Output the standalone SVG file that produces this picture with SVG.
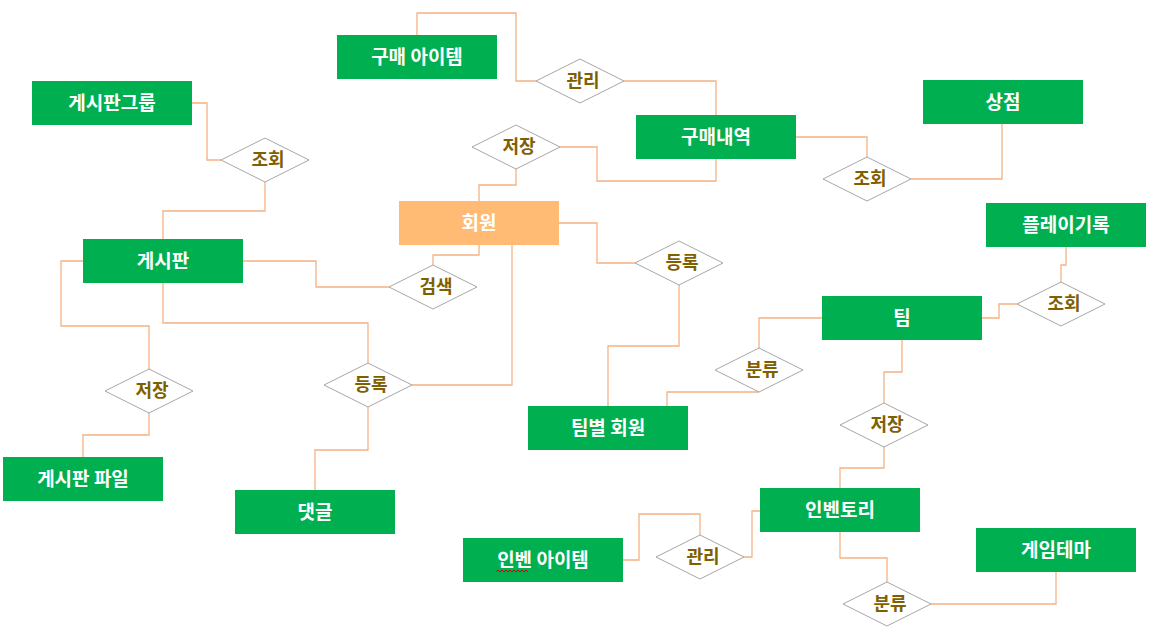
<svg xmlns="http://www.w3.org/2000/svg" width="1162" height="634" viewBox="0 0 1162 634">
<style>
.ent rect{fill:#00B050}
.ent.main rect{fill:#FFBB73}
.ent text{fill:#FFFFFF;font-family:"Noto Sans CJK KR","Noto Sans",sans-serif;font-weight:bold;font-size:19px;text-anchor:middle}
.rel path{fill:#FFFFFF;stroke:#A6A6A6;stroke-width:1}
.rel text{fill:#7F6000;font-family:"Noto Sans CJK KR","Noto Sans",sans-serif;font-weight:bold;font-size:18px;text-anchor:middle}
#connectors polyline{fill:none;stroke:#F4B183;stroke-width:1.3}
</style>
<rect width="1162" height="634" fill="#FFFFFF"/>
<g id="connectors">
<polyline points="417,35 417,13 516,13 516,81 536,81"/>
<polyline points="624,81 716,81 716,115"/>
<polyline points="560,147 597,147 597,181 716,181 716,159"/>
<polyline points="516,169 516,185 479,185 479,201"/>
<polyline points="192,103 207,103 207,160 221,160"/>
<polyline points="265,182 265,211 163,211 163,239"/>
<polyline points="243,261 316,261 316,287 389,287"/>
<polyline points="433,265 433,255 479,255 479,245"/>
<polyline points="512,245 512,385 412,385"/>
<polyline points="163,283 163,323 368,323 368,363"/>
<polyline points="83,261 61,261 61,326 149,326 149,369"/>
<polyline points="149,413 149,435 83,435 83,457"/>
<polyline points="368,407 368,450 315,450 315,490"/>
<polyline points="559,223 597,223 597,263 635,263"/>
<polyline points="679,285 679,346 608,346 608,406"/>
<polyline points="822,318 759,318 759,348"/>
<polyline points="759,392 667,392 667,406"/>
<polyline points="902,340 902,372 884,372 884,403"/>
<polyline points="884,447 884,468 840,468 840,488"/>
<polyline points="796,137 867,137 867,157"/>
<polyline points="911,179 1002,179 1002,124"/>
<polyline points="1066,247 1066,265 1061,265 1061,282"/>
<polyline points="1017,304 999,304 999,318 982,318"/>
<polyline points="623,560 639,560 639,514 700,514 700,535"/>
<polyline points="744,557 752,557 752,511 760,511"/>
<polyline points="840,532 840,558 887,558 887,582"/>
<polyline points="931,604 1056,604 1056,572"/>
</g>
<g id="purchase-item" class="ent"><rect x="337" y="35" width="160" height="44"/><text x="417" y="64">구매 아이템</text></g>
<g id="purchase-history" class="ent"><rect x="636" y="115" width="160" height="44"/><text x="716" y="144">구매내역</text></g>
<g id="shop" class="ent"><rect x="923" y="80" width="160" height="44"/><text x="1003" y="109">상점</text></g>
<g id="board-group" class="ent"><rect x="32" y="81" width="160" height="44"/><text x="112" y="110">게시판그룹</text></g>
<g id="member" class="ent main"><rect x="399" y="201" width="160" height="44"/><text x="479" y="230">회원</text></g>
<g id="play-record" class="ent"><rect x="986" y="203" width="160" height="44"/><text x="1066" y="232">플레이기록</text></g>
<g id="board" class="ent"><rect x="83" y="239" width="160" height="44"/><text x="163" y="268">게시판</text></g>
<g id="team" class="ent"><rect x="822" y="296" width="160" height="44"/><text x="902" y="325">팀</text></g>
<g id="team-member" class="ent"><rect x="528" y="406" width="160" height="44"/><text x="608" y="435">팀별 회원</text></g>
<g id="board-file" class="ent"><rect x="3" y="457" width="160" height="44"/><text x="83" y="486">게시판 파일</text></g>
<g id="comment" class="ent"><rect x="235" y="490" width="160" height="44"/><text x="315" y="519">댓글</text></g>
<g id="inventory" class="ent"><rect x="760" y="488" width="160" height="44"/><text x="840" y="517">인벤토리</text></g>
<g id="inven-item" class="ent"><rect x="463" y="538" width="160" height="44"/><text x="543" y="567">인벤 아이템</text><path d="M496,572 l2,-2 l2,2 l2,-2 l2,2 l2,-2 l2,2 l2,-2 l2,2 l2,-2 l2,2 l2,-2 l2,2 l2,-2 l2,2 l2,-2 l2,2" fill="none" stroke="#E00000" stroke-width="1"/></g>
<g id="game-theme" class="ent"><rect x="976" y="528" width="160" height="44"/><text x="1056" y="557">게임테마</text></g>
<g id="rel-manage1" class="rel"><path d="M536,81 L580,59 L624,81 L580,103 Z"/><text x="583" y="87">관리</text></g>
<g id="rel-save1" class="rel"><path d="M472,147 L516,125 L560,147 L516,169 Z"/><text x="519" y="153">저장</text></g>
<g id="rel-view1" class="rel"><path d="M221,160 L265,138 L309,160 L265,182 Z"/><text x="268" y="166">조회</text></g>
<g id="rel-view2" class="rel"><path d="M823,179 L867,157 L911,179 L867,201 Z"/><text x="870" y="185">조회</text></g>
<g id="rel-search" class="rel"><path d="M389,287 L433,265 L477,287 L433,309 Z"/><text x="436" y="293">검색</text></g>
<g id="rel-register1" class="rel"><path d="M635,263 L679,241 L723,263 L679,285 Z"/><text x="682" y="269">등록</text></g>
<g id="rel-view3" class="rel"><path d="M1017,304 L1061,282 L1105,304 L1061,326 Z"/><text x="1064" y="310">조회</text></g>
<g id="rel-classify1" class="rel"><path d="M715,370 L759,348 L803,370 L759,392 Z"/><text x="762" y="376">분류</text></g>
<g id="rel-save2" class="rel"><path d="M105,391 L149,369 L193,391 L149,413 Z"/><text x="152" y="397">저장</text></g>
<g id="rel-register2" class="rel"><path d="M324,385 L368,363 L412,385 L368,407 Z"/><text x="371" y="391">등록</text></g>
<g id="rel-save3" class="rel"><path d="M840,425 L884,403 L928,425 L884,447 Z"/><text x="887" y="431">저장</text></g>
<g id="rel-manage2" class="rel"><path d="M656,557 L700,535 L744,557 L700,579 Z"/><text x="703" y="563">관리</text></g>
<g id="rel-classify2" class="rel"><path d="M843,604 L887,582 L931,604 L887,626 Z"/><text x="890" y="610">분류</text></g>
</svg>
